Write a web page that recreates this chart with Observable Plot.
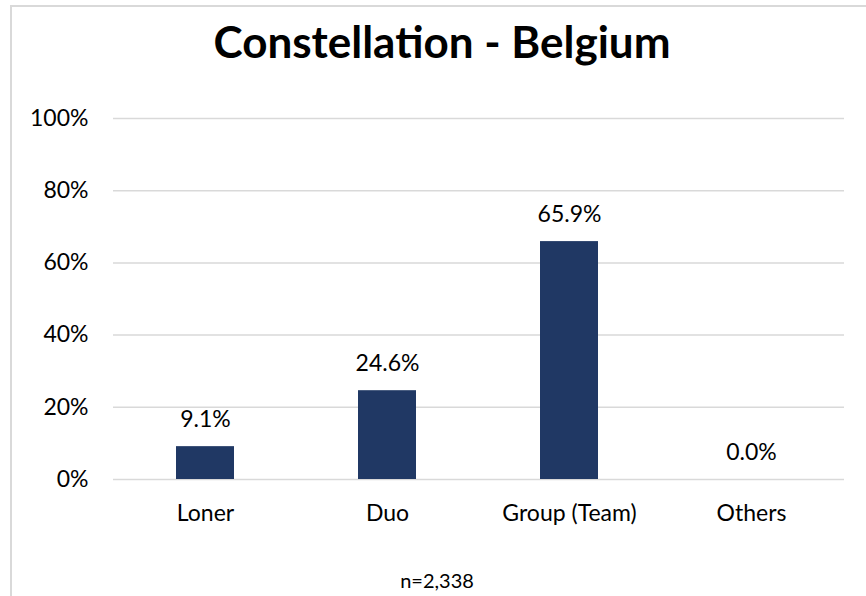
<!DOCTYPE html>
<html>
<head>
<meta charset="utf-8">
<script src="https://cdn.jsdelivr.net/npm/d3@7"></script>
<script src="https://cdn.jsdelivr.net/npm/@observablehq/plot@0.6"></script>
<style>
  body { margin: 0; background: #fff; overflow: hidden; }
  #wrap { position: relative; width: 866px; height: 596px; }
  #frame { position: absolute; left: 10px; top: 5px; width: 900px; height: 700px; border: 2px solid #d9d9d9; box-sizing: border-box; pointer-events: none; }
</style>
</head>
<body>
<div id="wrap"><div id="frame"></div></div>
<script>
const categories = ["Loner", "Duo", "Group (Team)", "Others"];
const values = [0.091, 0.246, 0.659, 0.0];
const yTicks = [0, 0.2, 0.4, 0.6, 0.8, 1.0];
const title = "Constellation - Belgium";
const note = "n=2,338";

const data = categories.map((c, i) => ({category: c, value: values[i]}));

const chart = Plot.plot({
  width: 866,
  height: 596,
  marginLeft: 113,
  marginRight: 22,
  marginTop: 118,
  marginBottom: 117,
  style: {fontFamily: "Lato, 'Open Sans', sans-serif", fontSize: "23px", color: "#000", background: "transparent"},
  x: {domain: categories, paddingInner: 0.68, paddingOuter: 0.34, align: 0.5, label: null, tickSize: 0, tickPadding: 25},
  y: {domain: [0, 1], ticks: yTicks, tickFormat: d => Math.round(d * 100) + "%", label: null, tickSize: 0, tickPadding: 25},
  marks: [
    Plot.gridY(yTicks, {stroke: "#d9d9d9", strokeOpacity: 1, strokeWidth: 1.5}),
    Plot.barY(data, {x: "category", y: "value", fill: "#203864"}),
    Plot.text(data, {x: "category", y: "value", text: d => (d.value * 100).toFixed(1) + "%", dy: -27, fontSize: 23, fill: "#000"}),
    Plot.text([title], {frameAnchor: "top", dx: -37, dy: -92, fontSize: 44, fontWeight: "bold", fill: "#000"}),
    Plot.text([note], {frameAnchor: "bottom", dx: -42, dy: 108, fontSize: 20, fill: "#000"})
  ]
});
document.getElementById("wrap").prepend(chart);
</script>
</body>
</html>
